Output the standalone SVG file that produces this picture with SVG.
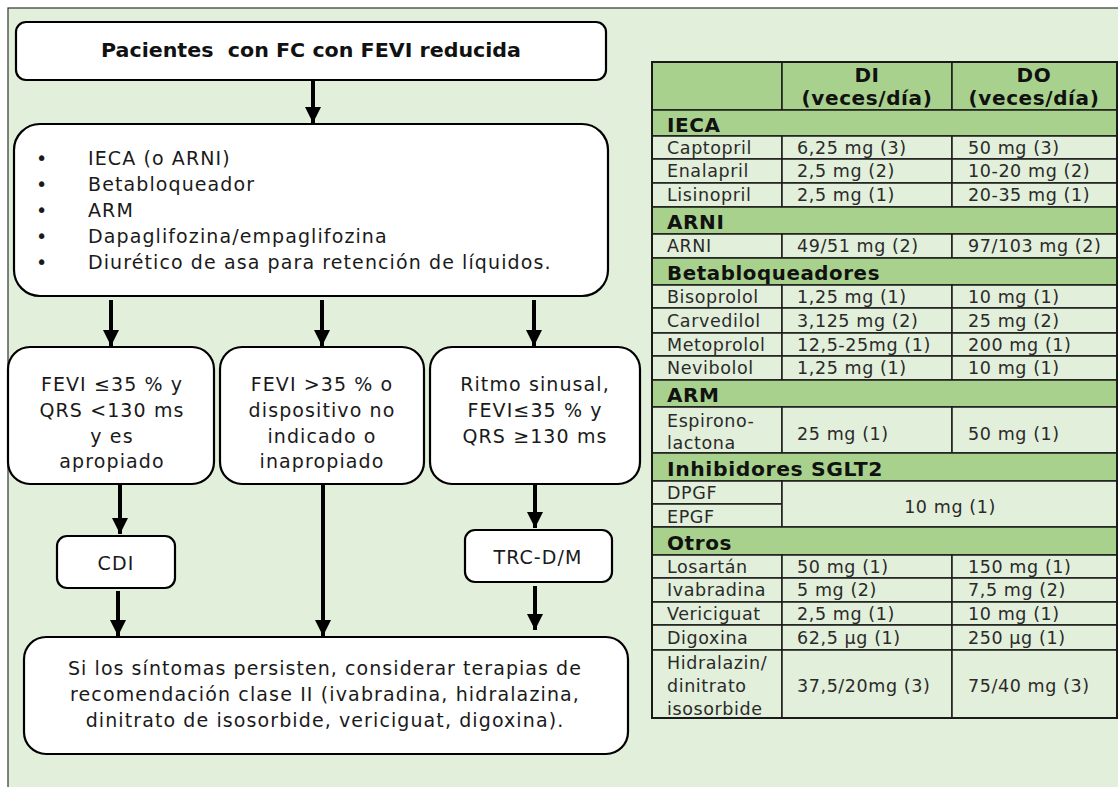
<svg xmlns="http://www.w3.org/2000/svg" width="1118" height="787" viewBox="0 0 1118 787">
<defs>
<marker id="ah" markerUnits="userSpaceOnUse" markerWidth="16" markerHeight="16" viewBox="0 0 16 16" refX="16" refY="8" orient="auto">
<path d="M0,0 L16,8 L0,16 Z" fill="#000"/>
</marker>
</defs>
<style>
.box{fill:#fff;stroke:#000;stroke-width:2.2}
.t{font-family:"DejaVu Sans",Verdana,sans-serif;font-size:19px;fill:#1a1a1a;letter-spacing:1.1px}
.tb{font-family:"DejaVu Sans",Verdana,sans-serif;font-size:19px;font-weight:bold;fill:#111}
.c{text-anchor:middle}
.conn line{stroke:#000;stroke-width:4;marker-end:url(#ah)}
.cell{fill:#e2efda;stroke:#1a1a1a;stroke-width:1.5}
.hd{fill:#a9d18e;stroke:#1a1a1a;stroke-width:1.5}
.tt{font-family:"DejaVu Sans",Verdana,sans-serif;font-size:17.5px;fill:#2a2a2a;letter-spacing:0.6px}
.th{font-family:"DejaVu Sans",Verdana,sans-serif;font-size:20px;font-weight:bold;fill:#111;letter-spacing:0.6px}
</style>
<rect x="0" y="0" width="1118" height="787" fill="#fff"/>
<rect x="8" y="8" width="1115" height="785" fill="#e2efda" stroke="#333" stroke-width="1.2"/>

<g id="n-title">
<rect class="box" x="16" y="22" width="590" height="58" rx="10"/>
<text class="tb c" x="311" y="57" textLength="420" lengthAdjust="spacingAndGlyphs" xml:space="preserve">Pacientes  con FC con FEVI reducida</text>
</g>

<g id="n-treat">
<rect class="box" x="14" y="124" width="594" height="172" rx="26"/>
<g class="t">
<text x="36" y="165">•</text><text x="88" y="165">IECA (o ARNI)</text>
<text x="36" y="191">•</text><text x="88" y="191">Betabloqueador</text>
<text x="36" y="217">•</text><text x="88" y="217">ARM</text>
<text x="36" y="243">•</text><text x="88" y="243">Dapaglifozina/empaglifozina</text>
<text x="36" y="269">•</text><text x="88" y="269">Diurético de asa para retención de líquidos.</text>
</g>
</g>

<g id="n-c1">
<rect class="box" x="8" y="347" width="206" height="137" rx="22"/>
<g class="t c">
<text x="112" y="391">FEVI ≤35 % y</text>
<text x="112" y="417">QRS &lt;130 ms</text>
<text x="112" y="443">y es</text>
<text x="112" y="468">apropiado</text>
</g>
</g>

<g id="n-c2">
<rect class="box" x="220" y="347" width="204" height="137" rx="22"/>
<g class="t c">
<text x="322" y="391">FEVI &gt;35 % o</text>
<text x="322" y="417">dispositivo no</text>
<text x="322" y="443">indicado o</text>
<text x="322" y="468">inapropiado</text>
</g>
</g>

<g id="n-c3">
<rect class="box" x="430" y="347" width="210" height="137" rx="22"/>
<g class="t c">
<text x="535" y="391">Ritmo sinusal,</text>
<text x="535" y="417">FEVI≤35 % y</text>
<text x="535" y="443">QRS ≥130 ms</text>
</g>
</g>

<g id="n-cdi">
<rect class="box" x="57" y="536" width="118" height="52" rx="10"/>
<text class="t c" x="116" y="570">CDI</text>
</g>

<g id="n-trc">
<rect class="box" x="465" y="530" width="147" height="52" rx="10"/>
<text class="t c" x="538" y="564">TRC-D/M</text>
</g>

<g id="n-final">
<rect class="box" x="24" y="637" width="604" height="117" rx="22"/>
<g class="t">
<text x="68" y="675" textLength="514" lengthAdjust="spacing">Si los síntomas persisten, considerar terapias de</text>
<text x="70" y="701" textLength="510" lengthAdjust="spacing">recomendación clase II (ivabradina, hidralazina,</text>
<text class="c" x="325" y="727">dinitrato de isosorbide, vericiguat, digoxina).</text>
</g>
</g>

<g id="connectors" class="conn">
<line x1="313" y1="80" x2="313" y2="123"/>
<line x1="111" y1="300" x2="111" y2="346"/>
<line x1="322" y1="300" x2="322" y2="346"/>
<line x1="534" y1="300" x2="534" y2="346"/>
<line x1="120" y1="485" x2="120" y2="534"/>
<line x1="323" y1="485" x2="323" y2="636"/>
<line x1="535" y1="485" x2="535" y2="528"/>
<line x1="118" y1="591" x2="118" y2="636"/>
<line x1="535" y1="586" x2="535" y2="630"/>
</g>

<g id="table">
<rect class="hd" x="652" y="62" width="130" height="48"/>
<rect class="hd" x="782" y="62" width="170" height="48"/>
<rect class="hd" x="952" y="62" width="165" height="48"/>
<text class="th c" x="867" y="82">DI</text>
<text class="th c" x="867" y="105">(veces/día)</text>
<text class="th c" x="1034" y="82">DO</text>
<text class="th c" x="1034" y="105">(veces/día)</text>

<rect class="hd" x="652" y="110" width="465" height="26"/>
<text class="th" x="667" y="132">IECA</text>

<rect class="cell" x="652" y="136" width="130" height="23"/><rect class="cell" x="782" y="136" width="170" height="23"/><rect class="cell" x="952" y="136" width="165" height="23"/>
<text class="tt" x="667" y="154">Captopril</text><text class="tt" x="797" y="154">6,25 mg (3)</text><text class="tt" x="968" y="154">50 mg (3)</text>
<rect class="cell" x="652" y="159" width="130" height="24"/><rect class="cell" x="782" y="159" width="170" height="24"/><rect class="cell" x="952" y="159" width="165" height="24"/>
<text class="tt" x="667" y="177">Enalapril</text><text class="tt" x="797" y="177">2,5 mg (2)</text><text class="tt" x="968" y="177">10-20 mg (2)</text>
<rect class="cell" x="652" y="183" width="130" height="24"/><rect class="cell" x="782" y="183" width="170" height="24"/><rect class="cell" x="952" y="183" width="165" height="24"/>
<text class="tt" x="667" y="201">Lisinopril</text><text class="tt" x="797" y="201">2,5 mg (1)</text><text class="tt" x="968" y="201">20-35 mg (1)</text>

<rect class="hd" x="652" y="207" width="465" height="27"/>
<text class="th" x="667" y="229">ARNI</text>
<rect class="cell" x="652" y="234" width="130" height="24"/><rect class="cell" x="782" y="234" width="170" height="24"/><rect class="cell" x="952" y="234" width="165" height="24"/>
<text class="tt" x="667" y="252">ARNI</text><text class="tt" x="797" y="252">49/51 mg (2)</text><text class="tt" x="968" y="252">97/103 mg (2)</text>

<rect class="hd" x="652" y="258" width="465" height="27"/>
<text class="th" x="667" y="280" textLength="213" lengthAdjust="spacingAndGlyphs">Betabloqueadores</text>
<rect class="cell" x="652" y="285" width="130" height="23"/><rect class="cell" x="782" y="285" width="170" height="23"/><rect class="cell" x="952" y="285" width="165" height="23"/>
<text class="tt" x="667" y="303">Bisoprolol</text><text class="tt" x="797" y="303">1,25 mg (1)</text><text class="tt" x="968" y="303">10 mg (1)</text>
<rect class="cell" x="652" y="308" width="130" height="25"/><rect class="cell" x="782" y="308" width="170" height="25"/><rect class="cell" x="952" y="308" width="165" height="25"/>
<text class="tt" x="667" y="327">Carvedilol</text><text class="tt" x="797" y="327">3,125 mg (2)</text><text class="tt" x="968" y="327">25 mg (2)</text>
<rect class="cell" x="652" y="333" width="130" height="23"/><rect class="cell" x="782" y="333" width="170" height="23"/><rect class="cell" x="952" y="333" width="165" height="23"/>
<text class="tt" x="667" y="351">Metoprolol</text><text class="tt" x="797" y="351">12,5-25mg (1)</text><text class="tt" x="968" y="351">200 mg (1)</text>
<rect class="cell" x="652" y="356" width="130" height="24"/><rect class="cell" x="782" y="356" width="170" height="24"/><rect class="cell" x="952" y="356" width="165" height="24"/>
<text class="tt" x="667" y="374">Nevibolol</text><text class="tt" x="797" y="374">1,25 mg (1)</text><text class="tt" x="968" y="374">10 mg (1)</text>

<rect class="hd" x="652" y="380" width="465" height="27"/>
<text class="th" x="667" y="402">ARM</text>
<rect class="cell" x="652" y="407" width="130" height="46"/><rect class="cell" x="782" y="407" width="170" height="46"/><rect class="cell" x="952" y="407" width="165" height="46"/>
<text class="tt" x="667" y="427">Espirono-</text><text class="tt" x="667" y="449">lactona</text>
<text class="tt" x="797" y="440">25 mg (1)</text><text class="tt" x="968" y="440">50 mg (1)</text>

<rect class="hd" x="652" y="453" width="465" height="28"/>
<text class="th" x="667" y="476" textLength="216" lengthAdjust="spacingAndGlyphs">Inhibidores SGLT2</text>
<rect class="cell" x="652" y="481" width="130" height="23"/><rect class="cell" x="652" y="504" width="130" height="23"/><rect class="cell" x="782" y="481" width="335" height="46"/>
<text class="tt" x="667" y="499">DPGF</text><text class="tt" x="667" y="523">EPGF</text>
<text class="tt c" x="950" y="513">10 mg (1)</text>

<rect class="hd" x="652" y="527" width="465" height="28"/>
<text class="th" x="667" y="550">Otros</text>
<rect class="cell" x="652" y="555" width="130" height="23"/><rect class="cell" x="782" y="555" width="170" height="23"/><rect class="cell" x="952" y="555" width="165" height="23"/>
<text class="tt" x="667" y="573">Losartán</text><text class="tt" x="797" y="573">50 mg (1)</text><text class="tt" x="968" y="573">150 mg (1)</text>
<rect class="cell" x="652" y="578" width="130" height="24"/><rect class="cell" x="782" y="578" width="170" height="24"/><rect class="cell" x="952" y="578" width="165" height="24"/>
<text class="tt" x="667" y="596">Ivabradina</text><text class="tt" x="797" y="596">5 mg (2)</text><text class="tt" x="968" y="596">7,5 mg (2)</text>
<rect class="cell" x="652" y="602" width="130" height="23"/><rect class="cell" x="782" y="602" width="170" height="23"/><rect class="cell" x="952" y="602" width="165" height="23"/>
<text class="tt" x="667" y="620">Vericiguat</text><text class="tt" x="797" y="620">2,5 mg (1)</text><text class="tt" x="968" y="620">10 mg (1)</text>
<rect class="cell" x="652" y="625" width="130" height="25"/><rect class="cell" x="782" y="625" width="170" height="25"/><rect class="cell" x="952" y="625" width="165" height="25"/>
<text class="tt" x="667" y="644">Digoxina</text><text class="tt" x="797" y="644">62,5 μg (1)</text><text class="tt" x="968" y="644">250 μg (1)</text>
<rect class="cell" x="652" y="650" width="130" height="68"/><rect class="cell" x="782" y="650" width="170" height="68"/><rect class="cell" x="952" y="650" width="165" height="68"/>
<text class="tt" x="667" y="669">Hidralazin/</text><text class="tt" x="667" y="692">dinitrato</text><text class="tt" x="667" y="715">isosorbide</text>
<text class="tt" x="797" y="692">37,5/20mg (3)</text><text class="tt" x="968" y="692">75/40 mg (3)</text>
<rect x="652" y="62" width="465" height="656" fill="none" stroke="#1a1a1a" stroke-width="2"/>
</g>
</svg>
